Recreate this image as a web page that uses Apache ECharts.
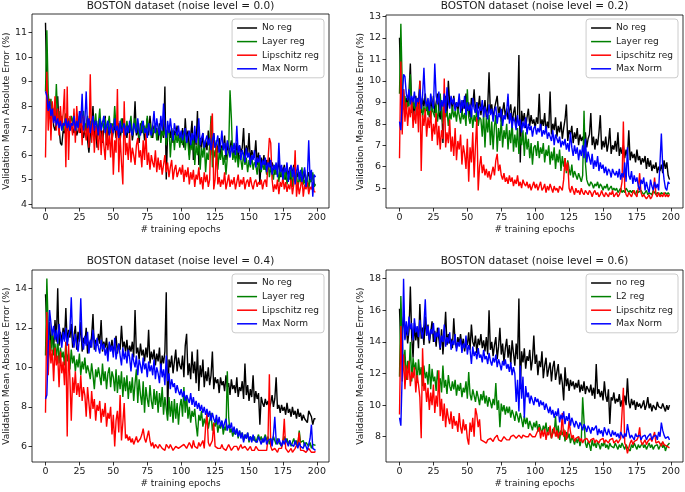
<!DOCTYPE html>
<html>
<head>
<meta charset="utf-8">
<script src="https://cdn.jsdelivr.net/npm/echarts@6/dist/echarts.min.js"></script>
<style>html,body{margin:0;padding:0;background:#fff}#c{width:685px;height:492px}</style>
</head>
<body>
<div id="c"></div>
<script>
// ---------- tick labels ----------
const epochTicks = [0, 25, 50, 75, 100, 125, 150, 175, 200];
const yTicks00 = [4, 5, 6, 7, 8, 9, 10, 11];
const yTicks02 = [5, 6, 7, 8, 9, 10, 11, 12, 13];
const yTicks04 = [6, 8, 10, 12, 14];
const yTicks06 = [8, 10, 12, 14, 16, 18];

const titles = ['BOSTON dataset (noise level = 0.0)', 'BOSTON dataset (noise level = 0.2)',
                'BOSTON dataset (noise level = 0.4)', 'BOSTON dataset (noise level = 0.6)'];
const namesA = ['No reg', 'Layer reg', 'Lipschitz reg', 'Max Norm'];
const namesB = ['no reg', 'L2 reg', 'Lipschitz reg', 'Max Norm'];
const xName = '# training epochs';
const yName = 'Validation Mean Absolute Error (%)';

// ---------- noise 0.0 ----------
const n00_noReg = [
11.4,8.5,8.2,7.6,7.4,8.0,7.2,7.0,7.3,8.4,7.1,6.5,6.4,7.0,6.9,7.3,7.0,7.4,7.0,7.2,
7.1,6.9,7.3,6.8,7.0,7.4,6.9,7.2,6.7,7.0,7.3,6.6,6.1,6.8,7.2,8.0,6.6,7.1,6.3,7.4,
6.9,7.2,6.5,7.0,7.6,6.4,7.1,6.8,7.3,6.6,7.0,7.2,6.7,6.9,7.3,6.6,7.1,7.5,6.8,7.0,
6.7,7.2,6.9,7.4,6.6,7.0,8.2,6.8,7.1,6.5,7.3,6.9,7.2,6.6,7.0,7.5,6.8,7.6,7.0,6.7,
7.2,6.9,7.1,6.6,7.3,6.8,7.0,6.7,8.8,5.0,6.9,7.2,6.7,7.1,6.5,7.0,6.8,7.2,6.6,6.9,
6.5,7.1,6.3,7.5,6.6,7.0,6.0,6.8,7.4,5.8,6.9,6.4,7.8,5.6,6.7,6.3,6.9,6.1,6.6,6.2,
7.0,6.4,6.8,6.0,6.9,6.3,6.5,6.1,6.7,5.9,6.4,6.2,6.8,5.8,6.5,6.1,6.3,6.6,5.9,6.2,
6.0,6.5,5.8,6.4,6.1,6.3,7.1,5.8,6.4,6.0,6.9,5.7,6.2,6.0,5.9,6.6,5.6,6.1,4.8,5.9,
5.6,6.0,5.4,5.8,5.5,5.9,5.3,5.7,5.5,5.2,5.6,5.4,5.8,5.1,5.5,5.3,5.6,5.0,5.4,5.2,
5.5,4.9,5.3,5.6,5.0,5.4,5.1,5.3,4.9,5.2,5.0,5.4,4.8,5.1,5.3,4.9,5.0,5.2,4.8,4.8];
const n00_layer = [
8.6,11.1,8.5,7.9,8.3,7.6,7.9,7.4,8.9,7.5,7.8,7.2,7.6,7.0,7.4,7.7,7.1,7.5,7.2,7.6,
7.3,7.7,7.0,7.4,7.2,7.6,7.1,7.5,7.8,7.0,7.3,7.6,7.1,7.4,7.0,7.5,7.2,7.7,6.9,7.3,
7.9,7.0,7.4,7.1,7.5,6.8,7.2,7.6,6.9,7.3,7.0,8.0,7.1,7.4,6.8,7.2,7.5,6.9,7.3,7.0,
7.4,6.9,7.2,7.6,6.8,7.1,7.5,7.0,7.3,6.7,7.1,7.4,6.9,7.2,6.8,7.6,7.0,7.3,6.7,7.1,
6.9,7.3,6.6,7.0,7.2,6.5,7.0,6.8,7.1,6.4,6.9,7.2,5.9,6.8,7.0,6.2,6.9,6.5,6.8,6.3,
6.9,6.4,7.0,6.2,6.7,6.5,5.8,6.6,6.2,6.8,5.6,6.4,6.0,6.7,5.4,6.3,5.9,6.5,5.3,6.1,
5.8,6.4,7.6,5.5,6.2,5.9,6.6,5.4,6.1,5.8,6.3,5.6,6.0,5.2,5.9,6.2,8.65,7.5,5.8,6.1,
5.7,6.2,5.5,6.0,5.8,5.4,6.1,5.6,5.9,5.3,5.8,5.5,6.0,5.4,5.7,5.6,5.2,5.8,5.5,5.3,
5.7,5.4,5.6,5.2,5.8,5.1,5.5,5.3,5.0,5.6,5.2,5.4,4.9,5.5,5.1,5.3,5.0,5.4,4.8,5.2,
5.0,5.4,4.7,5.2,4.9,5.3,4.6,5.1,4.9,5.5,4.8,5.0,4.7,5.2,4.6,5.0,4.9,5.3,4.7,4.8];
const n00_lip = [
5.9,9.4,7.0,8.3,6.6,8.2,7.3,8.4,7.0,7.9,6.8,8.0,7.1,7.7,8.7,5.5,8.8,5.8,7.6,7.2,
6.8,7.9,6.5,8.0,7.2,6.9,7.8,6.4,7.6,7.0,6.6,7.5,6.3,9.3,6.5,7.4,6.1,7.2,6.8,6.2,
7.3,6.0,7.0,6.4,5.8,7.1,6.2,6.9,5.9,7.2,5.2,6.6,6.1,8.7,5.3,6.8,5.7,4.8,8.2,6.0,
6.5,5.8,6.9,5.7,6.3,6.0,5.6,6.4,6.7,5.9,6.2,5.5,6.6,5.8,6.9,5.6,6.1,5.4,6.0,5.7,
5.5,6.2,5.3,5.9,5.4,5.8,5.2,5.6,6.0,5.3,5.7,5.1,5.5,5.8,5.0,5.4,5.6,5.1,5.3,5.5,
5.2,5.6,4.9,5.4,5.1,5.5,4.8,5.3,5.0,5.4,4.7,5.2,5.0,5.5,4.8,5.1,4.6,5.3,4.9,5.2,
4.7,5.0,7.2,7.7,4.6,5.0,6.4,4.8,5.1,4.7,5.0,4.8,5.3,4.6,4.9,5.2,4.7,5.0,4.8,5.1,
4.6,4.9,5.2,4.7,5.0,4.8,5.1,4.6,4.9,5.0,4.7,5.1,4.8,4.6,4.9,5.0,4.7,4.9,4.8,5.0,
4.6,4.9,5.0,4.7,5.8,6.7,6.5,5.0,4.5,4.8,4.6,5.0,4.4,4.9,4.7,5.1,4.6,4.9,4.5,4.8,
4.6,5.0,4.4,4.8,6.2,4.3,4.9,4.4,4.7,5.1,4.3,4.8,4.6,4.9,4.4,4.7,4.6,4.9,4.5,4.5];
const n00_maxNorm = [
8.6,8.4,7.8,8.2,7.6,7.9,7.3,7.6,7.2,7.5,7.1,7.4,7.0,7.3,7.2,7.5,7.1,7.4,7.0,7.3,
7.2,7.6,7.0,7.4,7.1,7.8,7.3,8.5,7.0,7.4,8.6,7.1,7.5,6.9,7.3,7.6,7.0,7.4,7.2,6.8,
7.5,7.0,7.3,7.6,6.9,7.2,7.4,6.8,7.3,7.1,6.9,7.5,7.0,7.2,6.7,7.4,6.9,7.1,7.3,6.8,
7.2,6.9,7.4,7.0,6.8,7.3,7.1,6.9,7.5,7.0,6.8,7.2,7.4,6.9,7.1,6.7,7.3,7.0,6.8,7.2,
7.8,6.9,7.5,7.1,6.8,7.6,7.0,8.1,7.2,6.7,7.4,6.9,7.5,7.0,6.6,7.3,7.0,6.8,7.2,6.7,
7.0,6.6,6.9,7.1,6.5,6.8,7.0,6.4,6.9,6.6,7.2,6.5,6.8,7.5,6.4,6.7,6.9,6.3,6.6,6.8,
6.4,6.7,6.2,6.6,6.9,6.3,6.5,6.8,6.1,6.4,7.0,6.2,6.5,6.0,6.6,6.3,5.9,6.4,6.1,6.5,
6.0,7.2,6.1,6.4,5.8,6.2,6.0,5.7,6.3,5.9,6.1,5.6,6.0,5.8,6.2,5.5,5.9,5.7,6.0,5.4,
5.8,5.6,5.9,5.3,5.7,5.5,5.8,5.2,5.6,5.4,5.7,5.1,6.5,5.3,5.6,5.0,5.5,5.3,5.7,4.9,
5.4,5.6,5.1,5.5,4.8,5.3,5.6,5.0,5.4,4.9,5.2,5.5,4.7,5.1,6.6,5.0,5.4,4.3,5.2,5.1];

// ---------- noise 0.2 ----------
const n02_noReg = [
12.0,9.4,8.9,9.6,8.4,9.2,8.8,9.5,10.8,8.6,9.1,8.2,9.3,8.7,9.0,10.0,8.5,9.2,8.8,9.4,
8.6,9.0,8.3,9.2,8.7,9.3,8.5,9.0,9.4,8.6,8.2,9.1,7.1,8.8,9.3,8.4,10.0,8.9,9.2,8.6,
9.3,8.7,9.0,8.5,9.2,8.8,8.4,9.1,8.7,9.4,8.6,9.0,8.3,9.2,8.8,9.6,8.5,9.0,8.7,9.3,
8.4,8.9,8.6,9.1,8.3,8.8,10.4,8.5,8.9,8.2,8.7,9.0,9.3,8.4,8.8,8.1,8.6,9.0,8.3,8.7,
8.2,8.6,8.9,8.0,8.5,8.8,7.9,8.4,11.2,6.2,8.6,8.1,8.5,7.8,8.3,8.7,7.9,8.4,8.0,8.2,
7.8,8.3,8.0,9.4,7.7,8.2,7.9,8.5,7.6,8.1,7.8,9.5,7.5,8.0,7.7,8.3,7.4,7.9,7.6,8.1,
7.3,7.8,8.2,8.9,7.2,7.7,7.5,7.9,7.1,7.6,7.3,7.8,7.0,7.5,7.2,7.4,7.1,7.6,6.9,7.3,
7.5,8.5,7.0,7.4,6.8,7.3,7.0,7.6,8.4,6.8,7.2,6.9,7.4,6.7,7.1,7.8,6.6,7.0,6.8,7.2,
6.7,7.6,6.5,6.9,6.6,7.0,6.4,6.8,6.5,7.7,6.3,6.7,6.4,6.6,6.2,6.8,6.3,6.5,6.1,6.4,
6.2,6.5,5.9,6.4,6.0,6.3,5.8,6.1,5.9,6.2,5.7,6.0,5.8,6.1,5.7,6.3,5.9,6.2,5.6,5.4];
const n02_layer = [
9.4,12.65,9.8,8.9,9.3,8.6,9.0,8.8,10.3,8.5,9.1,8.7,9.2,8.4,8.9,8.6,9.0,8.3,8.8,8.5,
8.9,8.4,8.7,8.2,8.8,8.5,8.3,8.9,8.1,8.6,9.4,8.4,8.0,8.7,8.3,8.6,7.9,8.5,8.2,8.8,
8.3,8.6,8.1,8.7,8.4,8.0,8.6,8.2,8.5,7.9,9.6,8.3,8.0,8.6,7.8,8.4,8.1,8.7,7.9,8.3,
8.2,7.4,8.5,6.9,8.3,7.6,8.4,7.0,8.1,6.8,7.9,8.4,6.7,7.8,7.2,8.2,6.9,7.7,7.3,8.0,
6.8,7.7,7.1,8.1,6.7,7.5,6.9,7.8,6.6,7.4,7.0,7.7,6.5,7.6,6.8,7.3,6.4,7.1,6.1,6.9,
7.0,6.5,7.2,6.4,6.9,6.6,7.1,6.2,6.8,6.5,7.0,6.1,6.7,6.3,6.9,5.9,6.6,6.2,6.8,5.8,
6.5,6.0,6.4,5.7,6.3,5.9,5.6,6.1,5.5,5.8,5.6,5.4,5.7,5.5,5.3,5.6,8.6,6.2,5.4,5.2,
5.1,5.3,5.2,5.0,5.2,5.1,5.3,5.0,5.2,5.1,4.9,5.1,5.0,5.2,4.9,5.0,5.1,4.9,5.0,4.9,
5.0,4.8,4.9,5.0,4.8,4.9,4.8,5.0,4.9,4.8,4.9,4.8,4.9,4.8,4.7,4.9,4.8,4.8,4.9,4.8,
4.7,4.8,4.9,4.7,4.8,4.8,4.7,4.9,4.8,4.7,4.8,4.8,4.7,4.8,4.8,4.7,4.8,4.7,4.8,4.7];
const n02_lip = [
6.4,10.9,7.5,9.6,8.1,9.0,7.9,8.8,8.3,9.2,7.8,8.6,8.0,9.1,7.6,10.0,5.8,8.4,7.9,8.7,
7.4,8.3,7.8,8.6,7.2,8.0,7.5,8.5,7.0,7.9,6.8,7.7,7.3,10.1,6.9,7.6,7.1,8.2,6.7,7.4,
6.5,7.8,6.3,7.2,6.8,7.5,6.1,7.0,6.6,5.9,7.3,5.3,6.9,6.2,7.6,5.5,7.0,8.3,4.9,6.0,
6.5,5.7,6.1,5.6,5.9,5.5,5.8,5.4,5.7,6.0,5.6,6.3,6.6,5.8,6.1,5.6,5.4,5.7,5.3,5.5,
5.2,5.6,5.3,5.5,5.1,5.4,5.2,5.6,5.1,5.3,5.0,5.4,5.2,5.1,5.3,5.0,5.2,4.9,5.1,5.3,
5.0,5.2,4.9,5.1,5.3,4.9,5.0,5.2,4.8,5.1,4.9,5.2,5.0,4.8,5.1,4.9,5.0,4.8,5.1,5.0,
4.9,5.4,6.4,5.8,6.2,5.0,4.8,5.1,4.9,4.7,5.0,4.8,4.9,4.7,5.0,4.8,4.7,4.9,4.8,4.7,
4.9,4.8,4.6,4.8,4.9,4.7,4.8,4.6,4.7,4.9,4.7,4.6,4.8,4.7,4.6,4.8,4.7,4.9,4.6,4.7,
4.8,4.6,4.7,4.9,5.3,8.1,5.0,4.7,4.6,4.8,4.7,4.6,4.8,4.9,4.7,4.6,5.0,5.7,4.8,4.6,
4.7,4.6,4.5,4.6,4.7,4.5,4.6,4.8,5.5,4.7,4.6,4.8,4.6,4.7,4.6,4.8,4.6,4.7,4.6,4.7];
const n02_maxNorm = [
8.1,7.7,9.0,10.3,10.2,9.4,9.1,9.6,8.9,9.3,9.0,9.5,8.8,9.2,9.0,9.6,8.7,9.3,10.6,9.1,
8.8,9.2,8.6,9.4,9.0,8.7,10.8,9.3,8.9,9.5,8.6,9.1,8.8,9.4,8.5,9.7,9.0,8.7,9.3,8.9,
9.2,8.6,9.0,8.8,9.4,8.5,9.1,8.7,9.3,8.4,9.0,8.6,8.9,8.3,9.2,8.7,8.5,9.0,8.2,8.8,
8.6,9.1,8.3,8.8,8.5,8.2,8.9,8.4,8.7,8.1,8.6,8.8,8.0,8.5,8.3,8.7,7.9,8.4,8.2,8.6,
9.4,8.0,8.5,7.8,8.3,8.1,7.7,8.4,7.9,8.2,7.6,8.1,7.8,8.3,7.5,8.0,7.7,7.9,7.4,7.8,
7.9,7.5,7.8,7.6,8.0,7.4,7.7,7.5,7.9,7.3,7.6,7.4,7.2,7.7,7.0,7.5,7.3,7.1,7.4,6.9,
7.2,7.0,7.3,6.8,7.1,6.7,7.6,6.9,6.5,7.0,6.6,6.9,6.3,6.8,6.5,7.0,6.4,7.3,6.2,6.7,
6.4,6.1,6.6,5.9,6.3,6.0,6.5,5.8,6.2,5.9,6.1,5.7,6.0,5.6,5.9,5.8,5.5,5.9,5.7,5.6,
5.8,5.5,5.9,5.4,5.7,5.5,6.2,5.3,6.9,5.6,5.4,5.8,5.2,5.6,5.3,5.5,5.1,4.9,5.4,5.2,
5.5,4.9,5.3,5.0,4.8,5.4,5.1,4.9,5.3,5.0,5.2,4.9,6.2,7.55,6.0,5.4,5.0,4.9,5.3,5.2];

// ---------- noise 0.4 ----------
const n04_noReg = [
13.7,12.0,11.2,12.3,11.0,11.7,10.9,12.4,11.3,14.0,11.1,11.8,11.3,12.0,11.4,13.0,11.2,11.9,11.5,12.2,
11.0,11.6,12.1,10.9,11.8,11.3,12.3,10.8,11.5,11.2,12.0,10.7,11.3,11.0,11.6,12.7,10.9,11.4,11.1,11.7,
11.2,12.4,10.8,11.3,11.0,11.5,10.6,11.2,10.9,11.4,10.8,11.1,11.6,10.7,11.2,10.9,12.1,11.0,11.3,10.8,
11.4,10.6,11.1,10.8,11.3,10.5,12.9,10.7,11.0,10.4,11.2,10.6,10.9,10.3,11.0,10.5,11.9,10.2,10.8,10.4,
10.9,10.1,10.7,10.3,11.0,9.8,10.6,10.2,10.8,13.8,7.6,10.4,10.0,10.6,9.7,10.3,10.9,9.8,10.5,10.1,
9.9,10.6,9.5,11.1,11.7,9.6,10.2,9.4,10.8,9.7,10.3,9.2,10.9,8.8,10.1,9.5,10.4,9.0,9.8,9.3,
10.0,9.1,9.6,10.8,8.9,9.5,9.2,9.4,8.7,9.5,9.1,9.3,8.8,9.6,9.0,9.2,8.6,9.4,8.9,9.1,
8.7,9.5,8.5,9.0,8.8,9.3,8.4,10.2,8.6,9.1,8.3,8.9,8.5,9.6,8.2,8.8,8.4,8.7,7.1,8.5,
8.2,8.0,8.4,8.1,8.3,7.9,8.2,8.6,8.0,8.4,9.5,7.9,8.1,7.7,8.1,7.8,8.0,7.6,8.2,7.7,
7.9,7.5,8.0,7.6,7.8,7.4,7.9,7.5,7.7,7.3,7.6,7.4,7.5,7.2,7.8,7.7,7.5,7.1,7.4,7.4];
const n04_layer = [
10.6,14.5,12.0,11.3,10.8,11.9,10.6,11.2,10.4,11.5,10.2,11.0,10.5,10.8,10.1,11.3,10.3,10.7,9.9,10.9,
10.2,10.6,9.8,10.4,10.0,10.7,9.6,10.3,9.9,10.5,9.7,10.1,9.8,9.4,10.2,9.6,8.9,9.9,9.5,10.0,
9.9,9.1,10.2,9.3,9.8,8.9,9.7,10.0,9.0,9.8,9.5,8.8,9.9,8.7,9.6,8.9,9.8,8.5,9.5,8.8,
9.6,8.4,9.3,8.7,9.5,8.3,9.2,9.9,8.2,9.4,8.6,8.1,9.3,7.7,9.0,8.4,8.0,9.1,8.3,7.9,
8.9,8.1,8.8,7.7,8.7,8.0,9.0,7.6,8.5,7.9,7.3,8.5,7.5,8.3,7.2,8.4,7.4,8.2,7.1,8.0,
8.4,7.5,9.0,7.7,8.6,7.4,8.0,7.2,7.8,7.5,7.9,7.1,6.5,7.6,7.3,7.8,7.0,7.4,7.1,7.6,
6.9,7.3,7.7,6.8,7.2,7.0,7.4,6.7,7.1,6.9,7.3,6.6,7.0,6.8,9.8,7.5,6.7,6.9,6.5,6.8,
6.6,6.9,6.4,6.8,6.5,6.7,6.3,6.6,6.4,6.7,6.2,6.5,6.6,6.3,6.5,6.2,6.4,6.6,6.3,6.5,
6.2,6.4,6.6,6.3,6.5,6.1,6.4,6.2,6.5,6.3,6.1,6.4,6.2,6.3,6.0,6.3,6.5,6.2,6.4,6.1,
6.3,6.0,6.2,6.4,6.1,6.3,6.0,6.8,6.2,6.1,6.3,6.0,6.2,6.1,6.0,6.2,5.9,6.1,6.0,6.05];
const n04_lip = [
7.7,12.8,9.6,11.4,10.2,10.9,9.3,11.0,10.1,10.6,9.0,10.8,9.7,10.3,9.1,11.3,6.5,11.2,9.4,7.3,
9.5,8.7,9.8,8.6,9.2,8.5,9.6,8.3,9.0,8.6,7.5,9.0,8.2,7.4,8.8,7.9,8.4,7.3,8.1,7.8,
8.3,7.2,7.9,7.5,8.2,7.0,7.7,7.4,8.0,6.6,7.6,6.0,7.3,7.8,6.7,8.6,6.3,7.2,8.2,6.4,
6.6,6.3,6.5,6.2,6.4,6.1,6.3,6.5,6.2,6.1,6.4,6.6,6.9,6.4,6.2,6.5,6.8,6.3,6.0,6.2,
5.9,6.1,6.0,5.9,6.1,6.2,5.9,6.0,5.8,6.1,6.0,5.9,6.1,6.0,5.8,5.9,6.0,6.1,5.9,6.0,
6.0,5.9,6.1,6.2,5.9,6.0,6.2,6.1,5.9,6.3,6.0,6.1,5.9,6.2,6.0,6.1,6.3,5.9,7.0,7.7,
6.2,6.0,5.9,6.3,7.2,6.0,6.1,5.9,6.0,5.9,6.1,5.9,6.0,5.8,5.9,6.1,6.0,5.8,5.9,6.0,
5.9,6.0,5.8,5.9,6.1,5.9,5.8,6.0,5.9,5.8,5.9,6.0,5.8,5.9,5.8,6.0,5.9,5.8,5.9,5.8,
5.9,5.8,5.9,5.8,6.4,9.65,6.0,5.8,5.7,5.9,5.8,5.7,5.9,5.8,5.9,6.3,7.4,5.9,5.8,5.7,
5.8,5.9,5.7,5.8,5.9,5.8,6.2,6.7,5.8,5.9,5.8,5.9,5.7,5.8,5.9,5.8,5.7,5.8,5.7,5.75];
const n04_maxNorm = [
8.4,8.6,11.0,12.9,13.0,11.6,12.1,11.4,11.9,11.2,12.2,11.5,11.0,11.8,11.3,12.0,11.1,11.6,11.9,13.55,
11.4,11.0,11.7,11.2,10.8,11.5,13.5,11.3,10.9,11.6,11.1,11.8,10.7,11.4,11.0,11.9,11.3,10.8,11.5,11.0,
10.7,11.4,10.9,11.2,10.6,11.0,10.3,11.3,10.8,11.1,10.5,11.5,10.4,10.9,11.2,10.6,10.1,11.0,10.4,10.8,
10.2,10.9,10.5,9.8,10.7,10.3,10.0,10.6,9.6,10.4,10.1,9.7,10.5,9.9,10.2,9.5,10.3,9.8,10.1,9.6,
10.4,9.4,10.0,9.7,9.2,10.2,9.5,9.9,9.1,10.6,9.3,9.7,8.9,9.4,9.0,9.2,8.7,9.1,8.8,8.6,
8.9,8.5,8.8,8.3,8.6,8.4,8.2,8.7,8.1,8.5,8.0,8.3,7.9,8.2,7.8,8.1,7.7,8.0,7.6,7.9,
7.5,7.8,7.3,7.7,7.4,7.2,7.6,7.1,7.5,7.0,7.3,6.9,7.2,7.4,6.8,7.1,6.9,7.2,6.7,7.0,
6.6,6.9,6.5,6.8,6.4,6.7,6.2,6.6,6.4,6.7,6.3,6.5,6.2,6.6,6.3,6.4,6.2,6.5,6.3,6.1,
6.4,6.2,6.5,6.1,6.3,6.2,6.4,6.0,6.6,7.5,6.3,6.1,6.4,6.2,6.0,6.3,6.1,6.4,6.2,6.0,
6.3,6.1,6.2,6.0,6.3,6.1,5.9,6.2,6.0,6.1,5.9,6.2,6.0,5.8,6.1,6.4,7.1,5.9,5.8,5.8];

// ---------- noise 0.6 ----------
const n06_noReg = [
16.1,13.6,14.8,15.6,14.2,15.0,13.9,14.7,17.5,14.3,13.0,15.2,14.1,14.8,13.6,16.4,14.2,14.9,13.8,15.6,
14.4,15.1,13.9,14.6,15.3,14.0,14.7,13.7,14.9,14.2,13.5,14.8,13.2,14.4,15.9,13.8,14.5,13.9,14.2,13.6,
15.5,14.0,13.6,14.3,13.9,14.5,13.7,14.2,13.4,14.1,13.8,14.6,13.5,15.1,14.0,13.7,14.4,13.3,14.2,13.8,
14.5,13.6,14.1,13.4,14.3,13.2,16.0,13.5,14.0,13.1,13.8,14.3,12.9,13.7,14.9,13.2,13.9,12.7,13.6,14.2,
13.0,13.8,12.6,14.1,13.3,12.5,13.9,12.9,16.75,11.0,13.4,12.7,13.6,12.3,13.1,12.8,13.5,12.2,12.9,14.4,
12.6,13.2,11.9,12.8,12.4,13.4,11.7,12.5,13.0,11.8,12.3,12.7,11.5,12.4,12.8,11.6,12.1,12.6,11.3,12.0,
11.4,10.3,12.4,11.2,11.7,10.9,11.6,11.2,11.5,11.0,11.4,11.1,11.6,10.8,11.3,10.9,11.5,10.7,11.2,11.0,
10.8,11.3,10.6,11.1,10.4,12.6,10.7,11.0,10.5,10.9,10.3,11.5,10.6,10.2,11.0,8.8,10.5,10.3,10.8,10.1,
10.4,10.2,10.7,9.9,10.3,10.1,10.6,10.0,11.7,10.2,9.8,10.4,10.0,10.3,9.7,10.2,9.9,10.1,9.8,10.0,
10.3,9.7,10.0,10.5,9.8,10.1,9.6,10.0,9.9,9.7,10.2,9.9,10.0,9.8,10.1,10.2,9.6,10.0,9.7,10.0];
const n06_l2 = [
11.8,16.9,14.2,12.3,13.5,11.6,12.8,12.1,14.0,11.5,13.0,12.2,12.7,11.4,12.9,11.9,12.4,11.2,12.5,11.7,
12.1,11.3,12.6,11.0,12.3,11.5,11.8,10.9,12.2,11.4,11.7,10.8,12.5,11.1,11.6,10.7,11.9,11.2,10.9,11.5,
11.0,11.6,10.6,11.3,10.9,11.4,10.5,11.1,10.8,11.5,10.4,12.1,10.7,10.3,11.0,10.6,10.2,10.9,10.5,10.0,
10.7,10.3,10.9,10.1,10.6,9.9,10.5,10.2,9.8,10.4,10.0,11.4,9.7,10.3,8.6,10.1,9.6,10.0,9.4,9.9,
9.5,9.9,9.2,9.7,9.4,9.0,9.6,9.3,8.9,9.5,9.1,8.6,9.3,8.8,9.2,8.5,9.0,8.7,8.4,8.9,
8.6,9.0,8.3,8.8,8.5,8.2,8.7,8.4,8.9,8.1,8.6,8.3,7.9,8.5,8.2,9.3,8.0,8.7,7.8,8.4,
8.1,8.5,7.7,8.3,7.9,8.2,7.6,8.0,7.8,7.5,7.9,7.6,8.0,7.4,7.8,10.5,9.0,7.6,7.3,7.7,
7.5,7.1,7.8,7.4,7.6,7.3,7.7,7.5,7.2,7.6,7.4,7.7,7.3,7.5,7.2,7.6,7.4,7.5,7.3,7.6,
7.4,7.2,7.5,7.3,7.6,7.4,7.2,7.5,7.3,7.4,7.1,7.5,7.3,7.6,7.4,7.2,7.5,7.3,7.4,7.6,
7.3,7.5,7.2,7.4,7.6,7.3,7.5,7.2,7.4,7.3,7.5,7.2,7.4,7.6,7.3,7.5,7.1,7.4,7.3,7.6];
const n06_lip = [
9.4,15.0,11.5,13.2,11.0,12.5,11.6,12.8,11.2,12.1,11.7,12.4,10.8,11.9,11.3,10.5,7.9,13.6,10.9,11.4,
10.2,11.1,9.7,10.8,10.0,11.3,9.5,10.6,9.9,12.2,9.3,10.4,9.0,10.1,8.6,9.8,9.2,8.8,9.6,8.5,
9.3,8.7,9.0,8.3,9.5,8.6,8.2,9.1,8.4,8.8,7.9,7.5,8.9,8.3,9.2,8.0,9.8,9.4,8.6,9.1,
7.8,7.9,7.7,7.8,7.6,7.8,7.7,7.9,7.8,7.7,7.9,8.0,8.1,7.8,7.9,7.7,7.8,8.0,7.9,7.8,
7.9,7.8,8.0,7.9,8.1,8.2,7.9,8.0,8.1,8.0,7.9,8.1,8.2,8.0,8.1,8.0,8.2,8.1,8.0,8.1,
8.0,8.2,8.1,8.6,7.9,8.4,8.0,8.5,7.8,8.3,8.1,8.7,7.9,8.2,8.6,8.0,8.4,7.9,8.3,8.1,
9.5,8.0,8.4,7.8,8.2,9.0,8.3,7.9,8.1,7.7,7.9,7.8,8.0,7.7,7.9,7.6,7.8,7.7,7.9,7.8,
7.6,7.8,7.7,7.9,7.6,7.8,7.7,7.6,7.8,7.7,7.9,7.6,7.8,7.7,7.6,7.8,7.7,7.9,7.6,7.7,
7.8,7.6,7.7,7.9,7.8,11.1,7.6,7.4,6.95,7.3,7.6,7.8,7.5,7.7,7.6,7.8,8.0,8.6,7.7,7.5,
7.6,7.8,7.5,7.7,7.6,7.9,7.7,8.0,8.3,7.6,7.5,7.7,7.6,7.4,7.7,7.5,7.6,7.4,7.5,7.3];
const n06_maxNorm = [
9.2,8.7,12.0,18.0,14.1,15.3,14.4,15.6,14.8,15.2,14.1,15.5,14.6,15.0,14.3,15.4,14.7,14.2,15.1,16.7,
14.4,15.0,14.1,14.8,14.5,15.2,14.0,14.6,14.3,14.9,13.6,14.4,14.0,15.1,13.7,14.3,13.9,14.6,13.5,14.1,
13.8,14.5,13.4,14.0,13.7,14.2,13.3,13.9,13.6,14.4,13.2,13.8,13.5,12.6,13.7,13.1,13.4,12.9,13.6,13.0,
13.2,12.7,13.5,12.9,13.1,12.6,13.3,12.8,12.5,13.0,12.7,13.2,12.4,12.9,12.6,12.2,12.8,12.5,12.9,12.3,
12.6,12.1,12.7,11.9,12.4,12.0,10.2,11.6,9.6,12.5,10.4,11.8,9.2,11.2,10.5,10.8,10.1,10.6,10.3,10.0,
10.5,10.2,10.4,9.9,10.3,10.0,10.2,9.7,10.1,9.8,9.5,9.9,9.4,9.7,9.2,9.6,9.3,9.8,8.9,9.4,
9.1,9.6,8.8,9.3,9.0,9.5,8.7,9.2,8.9,8.6,9.0,8.8,8.5,8.9,8.7,8.4,8.8,8.6,8.3,8.7,
8.5,8.2,8.6,8.4,8.3,8.7,8.1,8.5,8.2,8.4,8.0,8.6,8.3,8.1,8.5,8.2,8.0,8.4,8.1,8.3,
8.0,8.2,7.9,8.3,8.1,7.9,8.2,8.0,8.8,8.3,7.9,8.1,8.0,7.8,8.2,8.0,7.9,8.1,7.8,8.0,
7.9,8.1,7.8,8.0,7.9,8.2,7.8,8.0,7.9,8.1,7.8,8.3,8.0,8.9,8.4,8.1,7.9,7.8,8.0,7.8];

// ---------- build ----------
const colors = ['#000000', '#008000', '#ff0000', '#0000ff'];
const panels = [
  {grid:{left:32,top:14,width:297,height:194}, y:[3.84,11.76], yt:yTicks00, names:namesA, data:[n00_noReg,n00_layer,n00_lip,n00_maxNorm], titleTop:1, legend:{right:361,top:19}},
  {grid:{left:386,top:15,width:297,height:193}, y:[4.08,13.06], yt:yTicks02, names:namesA, data:[n02_noReg,n02_layer,n02_lip,n02_maxNorm], titleTop:1, legend:{right:7,top:19}},
  {grid:{left:32,top:270,width:297,height:192}, y:[5.21,14.93], yt:yTicks04, names:namesA, data:[n04_noReg,n04_layer,n04_lip,n04_maxNorm], titleTop:256, legend:{right:361,top:274}},
  {grid:{left:386,top:270,width:297,height:192}, y:[6.4,18.55], yt:yTicks06, names:namesB, data:[n06_noReg,n06_l2,n06_lip,n06_maxNorm], titleTop:256, legend:{right:7,top:274}}
];
const txt = '#1a1a1a';
const font = 'DejaVu Sans';
const option = {animation:false, backgroundColor:'#fff', title:[], grid:[], xAxis:[], yAxis:[], legend:[], series:[]};
panels.forEach((p, i) => {
  option.title.push({text:titles[i], left:p.grid.left + p.grid.width/2, top:p.titleTop, textAlign:'center', padding:0,
    textStyle:{fontFamily:font, fontSize:10.5, fontWeight:'normal', color:txt}});
  option.grid.push(Object.assign({show:true, borderColor:'#000', borderWidth:0.8, backgroundColor:'transparent', containLabel:false}, p.grid));
  option.xAxis.push({type:'value', gridIndex:i, min:-9.95, max:208.95,
    name:xName, nameLocation:'middle', nameGap:17, nameTextStyle:{fontFamily:font, fontSize:9, color:txt},
    axisLine:{show:false, onZero:false}, splitLine:{show:false},
    axisTick:{show:true, length:3.5, lineStyle:{color:'#000', width:0.8}, customValues:epochTicks},
    axisLabel:{fontFamily:font, fontSize:9.5, color:txt, margin:5, customValues:epochTicks}});
  option.yAxis.push({type:'value', gridIndex:i, min:p.y[0], max:p.y[1],
    name:yName, nameLocation:'middle', nameGap:20, nameTextStyle:{fontFamily:font, fontSize:9, color:txt},
    axisLine:{show:false, onZero:false}, splitLine:{show:false},
    axisTick:{show:true, length:3.5, lineStyle:{color:'#000', width:0.8}, customValues:p.yt},
    axisLabel:{fontFamily:font, fontSize:9.5, color:txt, margin:5, customValues:p.yt}});
  option.legend.push({orient:'vertical', right:p.legend.right, top:p.legend.top, data:p.names,
    icon:'rect', itemWidth:20, itemHeight:1.5, itemGap:3.6,
    padding:[4,5,4,5], backgroundColor:'rgba(255,255,255,0.8)', borderColor:'#cccccc', borderWidth:1, borderRadius:3,
    textStyle:{fontFamily:font, fontSize:9, color:txt, lineHeight:10}});
  p.data.forEach((arr, k) => {
    option.series.push({type:'line', name:p.names[k], xAxisIndex:i, yAxisIndex:i,
      data:arr.map((v, e) => [e, v]), symbol:'none', showSymbol:false,
      lineStyle:{color:colors[k], width:1.4}, itemStyle:{color:colors[k]}, color:colors[k]});
  });
});
const chart = echarts.init(document.getElementById('c'), null, {renderer:'canvas'});
chart.setOption(option);
</script>
</body>
</html>
